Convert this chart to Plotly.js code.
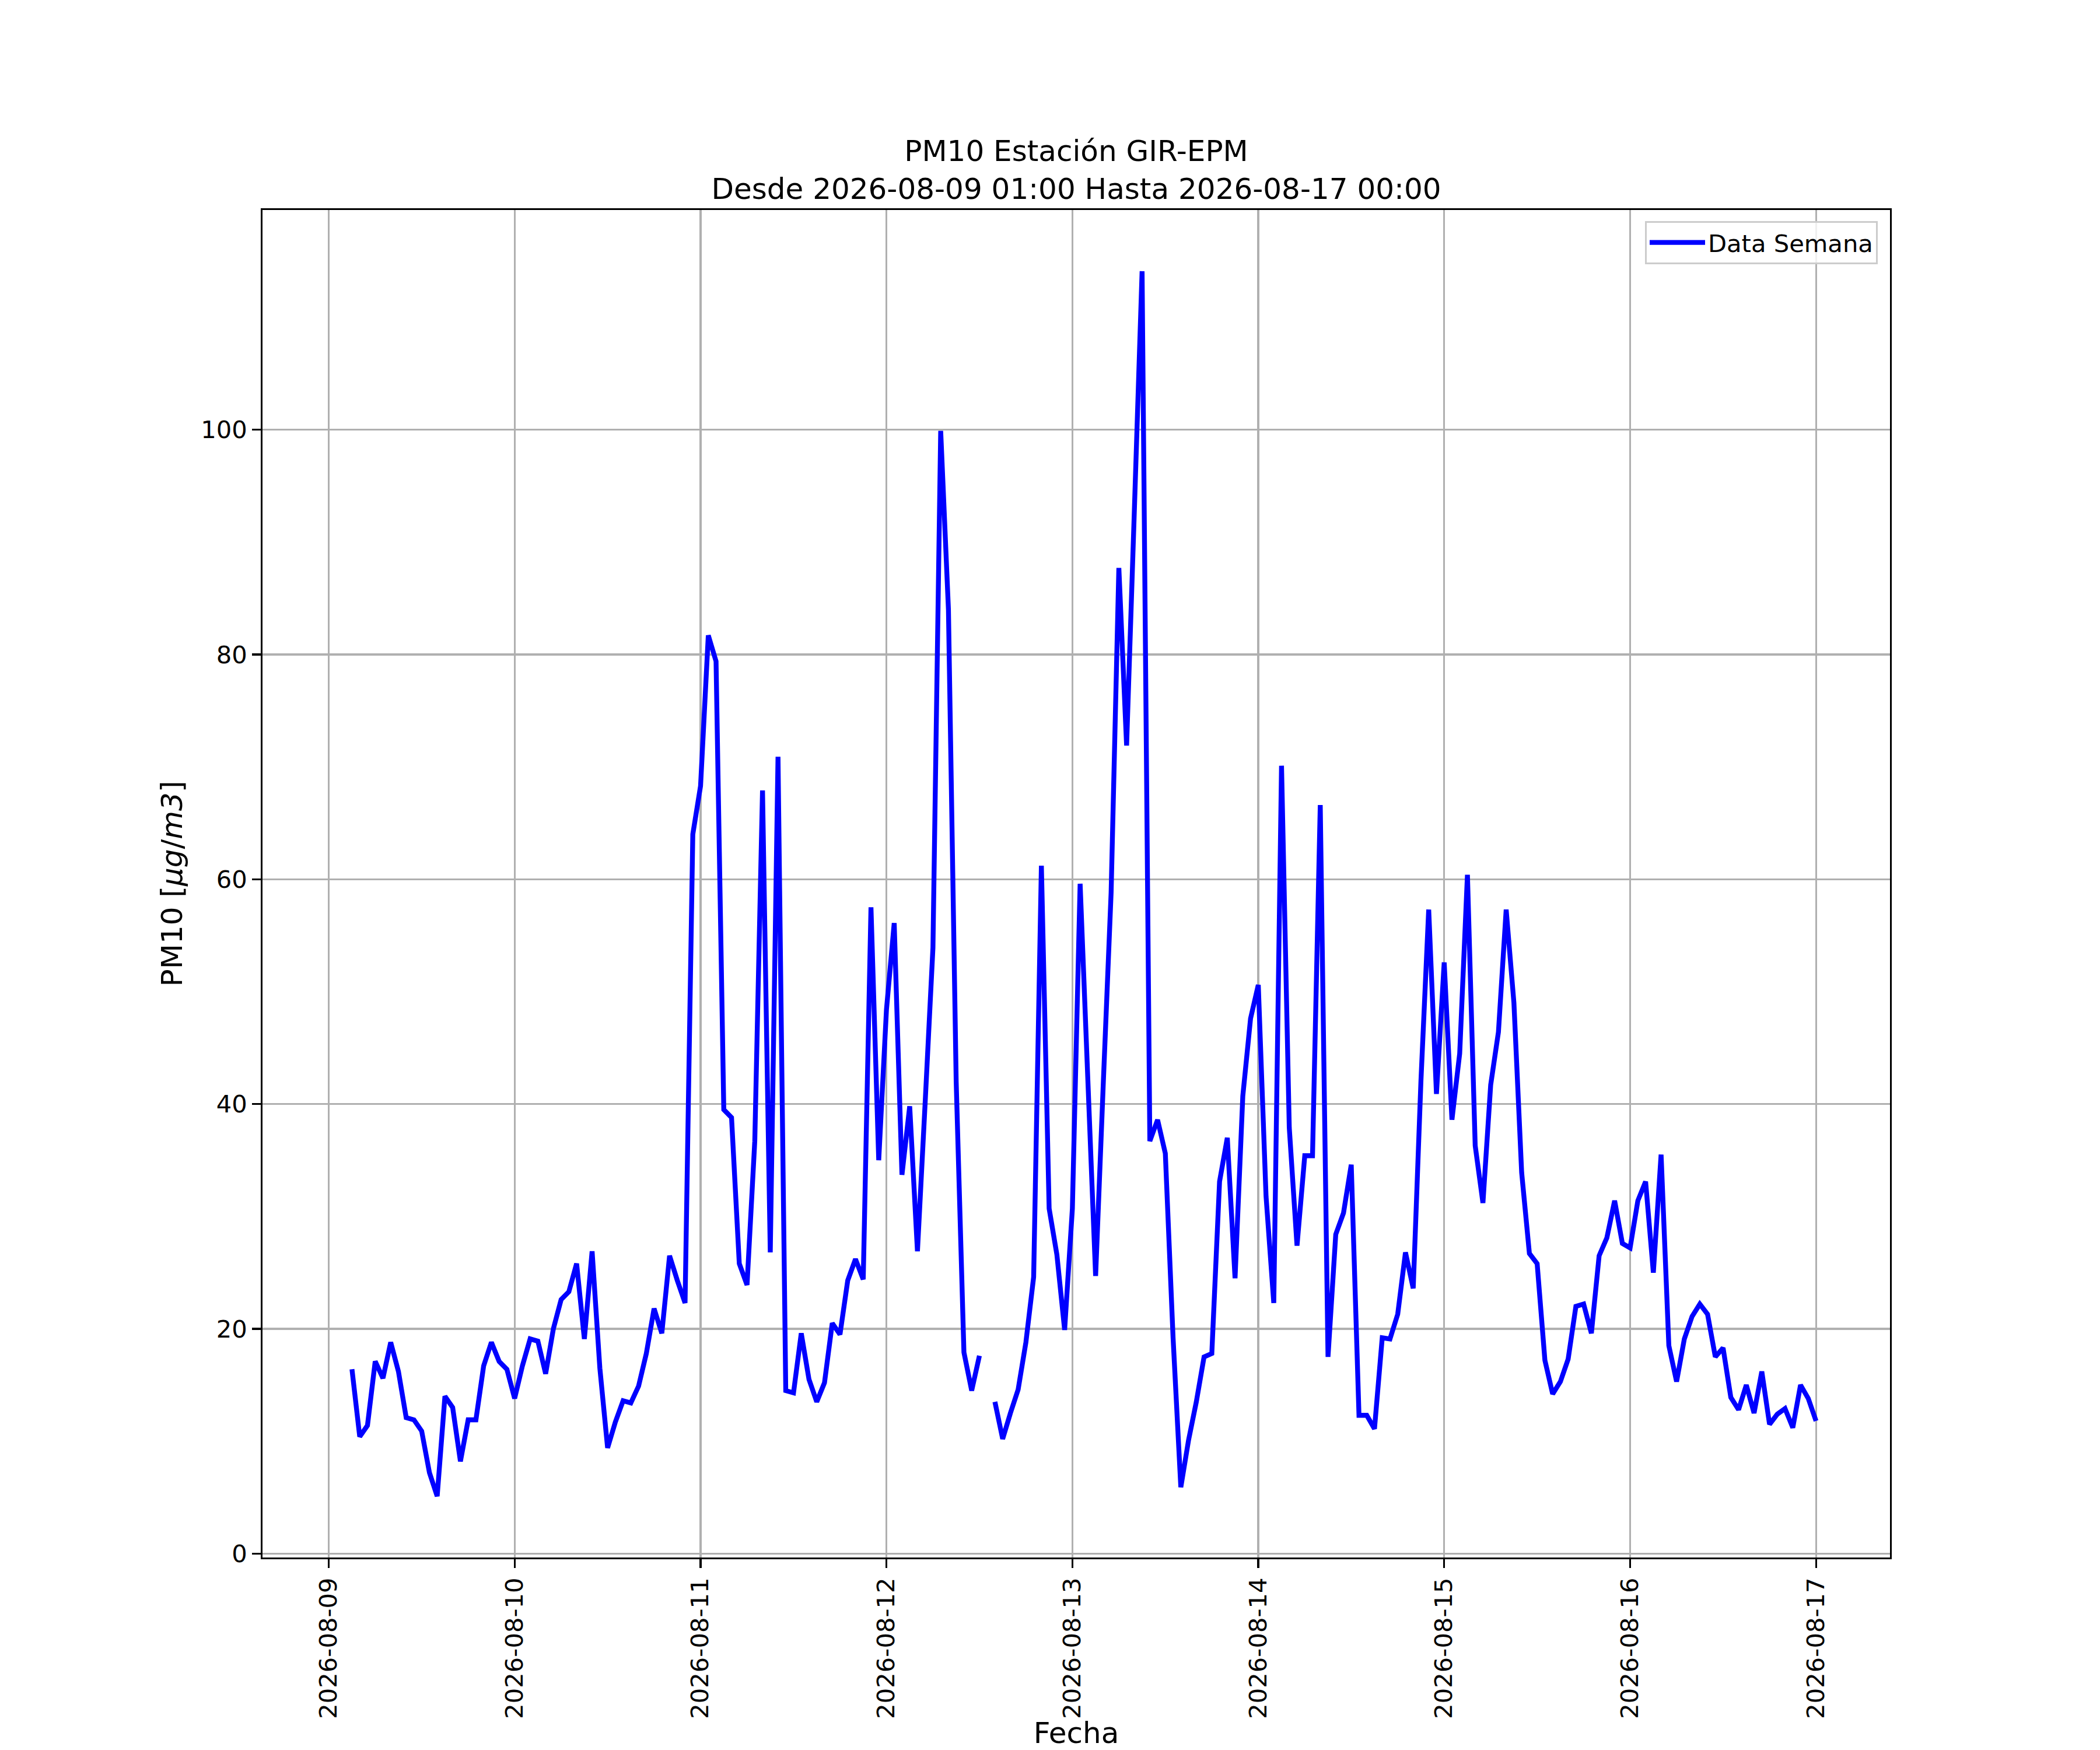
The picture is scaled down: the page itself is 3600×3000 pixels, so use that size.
<!DOCTYPE html>
<html>
<head>
<meta charset="utf-8">
<script src="https://cdn.plot.ly/plotly-3.0.1.min.js"></script>
<style>
  body { margin: 0; background: #fff; }
</style>
</head>
<body>
<div id="pm10_plot"></div>
<script>
// hourly PM10 values, first point 2026-08-09 01:00
var startTime = "2026-08-09T01:00:00"
var day09 = [null, null, 16.4, 10.4, 11.4, 17.1, 15.6, 18.8, 16.2, 12.1, 11.9, 10.9, 7.2, 5.1, 14.0, 13.0, 8.2, 11.9, 11.9, 16.7, 18.8, 17.1, 16.4]
var day10 = [13.8, 16.7, 19.1, 18.9, 16.0, 20.0, 22.6, 23.3, 25.8, 19.1, 26.9, 16.5, 9.4, 11.7, 13.6, 13.4, 14.9, 17.8, 21.8, 19.6, 26.5, 24.3, 22.3, 64.0]
var day11 = [68.3, 81.7, 79.4, 39.5, 38.8, 25.8, 23.9, 36.7, 67.9, 26.8, 70.9, 14.5, 14.3, 19.6, 15.5, 13.5, 15.2, 20.5, 19.5, 24.3, 26.2, 24.4, 57.5, 35.0]
var day12 = [48.4, 56.1, 33.7, 39.8, 26.9, 40.2, 53.9, 99.9, 84.0, 42.0, 17.9, 14.5, 17.6, null, 13.5, 10.2, 12.5, 14.6, 18.8, 24.6, 61.2, 30.7, 26.6, 19.9]
var day13 = [30.7, 59.6, 42.1, 24.7, 42.0, 58.8, 87.7, 71.9, 92.8, 114.1, 36.7, 38.6, 35.6, 19.2, 5.9, 10.1, 13.5, 17.5, 17.8, 33.1, 37.0, 24.5, 40.7, 47.6]
var day14 = [50.6, 31.8, 22.3, 70.1, 37.9, 27.4, 35.4, 35.4, 66.6, 17.5, 28.4, 30.3, 34.6, 12.3, 12.3, 11.1, 19.2, 19.1, 21.3, 26.8, 23.6, 42.1, 57.3, 40.9]
var day15 = [52.6, 38.6, 44.5, 60.4, 36.3, 31.2, 41.7, 46.4, 57.3, 49.0, 33.9, 26.7, 25.8, 17.2, 14.2, 15.3, 17.3, 22.0, 22.2, 19.6, 26.5, 28.1, 31.4, 27.6]
var day16 = [27.2, 31.4, 33.1, 25.0, 35.5, 18.5, 15.3, 19.1, 21.1, 22.2, 21.3, 17.5, 18.3, 13.9, 12.8, 15.0, 12.5, 16.2, 11.5, 12.4, 12.9, 11.2, 15.0, 13.8]
var day17 = [11.8]
var dayTicks = ["2026-08-09", "2026-08-10", "2026-08-11", "2026-08-12", "2026-08-13", "2026-08-14", "2026-08-15", "2026-08-16", "2026-08-17"]

var pm10 = [].concat(day09, day10, day11, day12, day13, day14, day15, day16, day17)

function pad2(n) {
    return (n < 10 ? "0" : "") + n
}

var t0 = new Date(startTime + "Z").getTime()
var times = pm10.map(function (v, i) {
    var d = new Date(t0 + i * 3600000)
    return d.getUTCFullYear() + "-" + pad2(d.getUTCMonth() + 1) + "-" + pad2(d.getUTCDate()) +
        " " + pad2(d.getUTCHours()) + ":00"
})

var FONT = "DejaVu Sans, Verdana, sans-serif"
var PT = 300 / 72

Plotly.newPlot(
    document.getElementById("pm10_plot"),
    [{
        type: "scatter",
        mode: "lines",
        name: "Data Semana",
        x: times,
        y: pm10,
        connectgaps: false,
        line: { color: "#0000ff", width: 2 * PT },
    }],
    {
        width: 3600,
        height: 3000,
        paper_bgcolor: "#ffffff",
        plot_bgcolor: "#ffffff",
        margin: {l: 450, r: 360, t: 360, b: 330, pad: 0},
        showlegend: true,
        title: {
            text: "PM10 Estación GIR-EPM<br>Desde 2026-08-09 01:00 Hasta 2026-08-17 00:00",
            font: { family: FONT, size: 12 * PT, color: "#000" },
            x: 0.5,
            xref: "paper",
            xanchor: "center",
            y: 1,
            yref: "paper",
            yanchor: "bottom",
            pad: { b: 84 },
        },
        legend: {
            x: 1 - 21 / 2790,
            y: 1 - 19 / 2310,
            xanchor: "right",
            yanchor: "top",
            bgcolor: "rgba(255,255,255,0.8)",
            bordercolor: "#cccccc",
            borderwidth: 3,
            font: { family: FONT, size: 10 * PT, color: "#000" },
            itemwidth: 95,
        },
        xaxis: {
            type: "date",
            range: ["2026-08-08 15:27", "2026-08-17 09:33"],
            tickmode: "array",
            tickvals: dayTicks,
            ticktext: dayTicks,
            tickangle: -90,
            ticks: "outside",
            ticklen: 3.5 * PT,
            tickwidth: 0.8 * PT,
            tickcolor: "#000",
            ticklabelstandoff: 3.5 * PT,
            tickfont: { family: FONT, size: 10 * PT, color: "#000" },
            showgrid: true,
            gridcolor: "#b0b0b0",
            gridwidth: 0.8 * PT,
            showline: true,
            mirror: true,
            linecolor: "#000",
            linewidth: 0.8 * PT,
            zeroline: false,
            automargin: false,
            title: {
                text: "Fecha",
                font: { family: FONT, size: 12 * PT, color: "#000" },
                standoff: 34,
            },
        },
        yaxis: {
            range: [-0.35, 119.55],
            tickmode: "array",
            tickvals: [0, 20, 40, 60, 80, 100],
            ticks: "outside",
            ticklen: 3.5 * PT,
            tickwidth: 0.8 * PT,
            tickcolor: "#000",
            ticklabelstandoff: 3.5 * PT,
            tickfont: { family: FONT, size: 10 * PT, color: "#000" },
            showgrid: true,
            gridcolor: "#b0b0b0",
            gridwidth: 0.8 * PT,
            showline: true,
            mirror: true,
            linecolor: "#000",
            linewidth: 0.8 * PT,
            zeroline: false,
            automargin: false,
            title: {
                text: "PM10 [<i>μg</i>/<i>m3</i>]",
                font: { family: FONT, size: 12 * PT, color: "#000" },
                standoff: 16,
            },
        },
    },
    { staticPlot: true }
)
</script>
</body>
</html>
